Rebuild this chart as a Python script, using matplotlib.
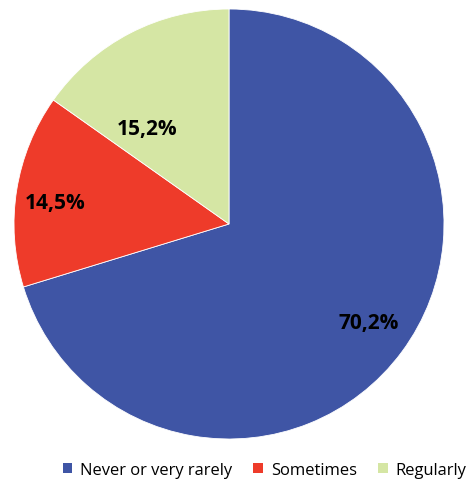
import matplotlib
matplotlib.use('Agg')
import matplotlib.pyplot as plt
from matplotlib.patches import Patch

labels = ["Never or very rarely", "Sometimes", "Regularly"]
values = [70.2, 14.5, 15.2]
pct_text = ["70,2%", "14,5%", "15,2%"]
colors = ["#3F55A5", "#EE3B2A", "#D5E6A4"]

W, H = 474, 485
cx, cy, r = 229, 225, 215

fig = plt.figure(figsize=(W / 100, H / 100), dpi=100)
ax = fig.add_axes([(cx - r) / W, (H - cy - r) / H, 2 * r / W, 2 * r / H])

wedges, texts = ax.pie(values, colors=colors, startangle=90, counterclock=False,
                       wedgeprops=dict(edgecolor="white", linewidth=0.6))
ax.set_xlim(-1, 1)
ax.set_ylim(-1, 1)
ax.set_aspect("equal")

# label spots, Excel "best fit" style
label_pos = [(0.649, -0.456), (-0.81, 0.10), (-0.381, 0.442)]
for txt, (x, y) in zip(pct_text, label_pos):
    ax.text(x, y, txt, ha="center", va="center", fontsize=15,
            fontweight="bold", family="Open Sans", color="black")

handles = [Patch(facecolor=c, edgecolor="none") for c in colors]
fig.legend(handles, labels, loc="center right", bbox_to_anchor=(1.0, (H - 471) / H),
           ncol=3, frameon=False, handlelength=0.6, handleheight=0.6,
           handletextpad=0.45, columnspacing=1.3, borderaxespad=0.05,
           prop=dict(family="Open Sans", size=11.9))

fig.savefig("out.png", dpi=100)
